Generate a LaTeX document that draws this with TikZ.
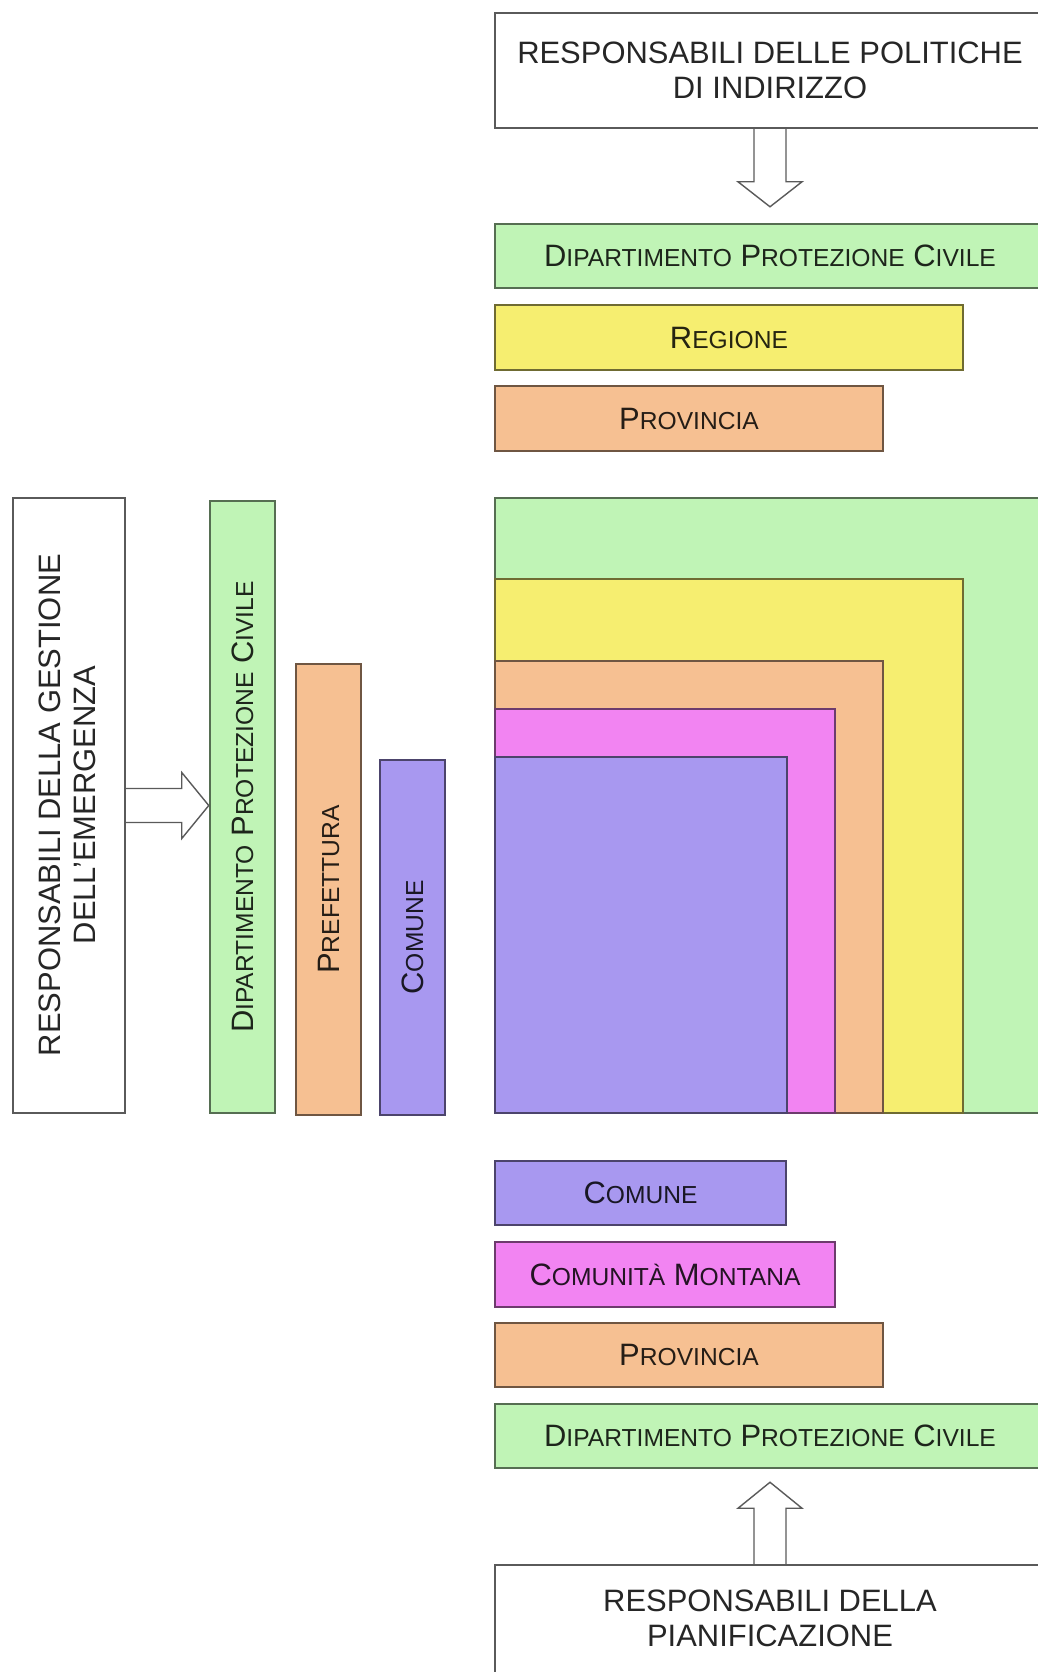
\documentclass[tikz,border=0pt]{standalone}
\usepackage{fontspec}
\setmainfont{Liberation Sans}
\usetikzlibrary{fit,calc}
\definecolor{cGreen}{RGB}{192,244,182}
\definecolor{cYellow}{RGB}{246,238,112}
\definecolor{cOrange}{RGB}{246,192,146}
\definecolor{cPink}{RGB}{242,132,242}
\definecolor{cBlue}{RGB}{168,152,240}
\definecolor{lineC}{RGB}{90,90,90}
\newcommand\fakesc[2]{{\fontsize{22}{25}\selectfont #1}{\fontsize{17.5}{25}\selectfont #2}}
\newcommand\bsp{{\fontsize{22}{25}\selectfont\ }}
\begin{document}
\begin{tikzpicture}[x=0.025cm,y=-0.025cm,
  box/.style={draw=lineC, line width=1.1pt, inner sep=0pt, fill=white},
  cbox/.style={draw=#1!45!black, line width=1.1pt, inner sep=0pt, fill=#1},
  bigtxt/.style={font=\fontsize{22}{25}\selectfont, align=center, text=black!85, inner sep=0pt},
  sctxt/.style={text=#1!15!black, inner sep=0pt},
  hollow/.style={draw=lineC, line width=1pt, line join=miter}]
\useasboundingbox (0,0) rectangle (1038,1672);
\clip (0,0) rectangle (1038,1672);

% top part
\node[box, fit={(495,13)(1045,128)}] (topbox) {};
\node[bigtxt] (toptxt) at (topbox.center) {RESPONSABILI DELLE POLITICHE\\DI INDIRIZZO};
\node[cbox=cGreen, fit={(495,224)(1045,288)}] (dpcT) {};
\node[sctxt=cGreen] (dpcTt) at (dpcT.center) {\fakesc{D}{IPARTIMENTO}\bsp\fakesc{P}{ROTEZIONE}\bsp\fakesc{C}{IVILE}};
\node[cbox=cYellow, fit={(495,305)(963,370)}] (regT) {};
\node[sctxt=cYellow] (regTt) at (regT.center) {\fakesc{R}{EGIONE}};
\node[cbox=cOrange, fit={(495,386)(883,451)}] (provT) {};
\node[sctxt=cOrange] (provTt) at (provT.center) {\fakesc{P}{ROVINCIA}};

% nested squares
\node[cbox=cGreen, fit={(495,498)(1045,1113)}] (sqG) {};
\node[cbox=cYellow, fit={(495,579)(963,1113)}] (sqY) {};
\node[cbox=cOrange, fit={(495,661)(883,1113)}] (sqO) {};
\node[cbox=cPink, fit={(495,709)(835,1113)}] (sqP) {};
\node[cbox=cBlue, fit={(495,757)(787,1113)}] (sqB) {};

% bottom part
\node[cbox=cBlue, fit={(495,1161)(786,1225)}] (comB) {};
\node[sctxt=cBlue] (comBt) at (comB.center) {\fakesc{C}{OMUNE}};
\node[cbox=cPink, fit={(495,1242)(835,1307)}] (cmB) {};
\node[sctxt=cPink] (cmBt) at (cmB.center) {\fakesc{C}{OMUNITÀ}\bsp\fakesc{M}{ONTANA}};
\node[cbox=cOrange, fit={(495,1323)(883,1387)}] (provB) {};
\node[sctxt=cOrange] (provBt) at (provB.center) {\fakesc{P}{ROVINCIA}};
\node[cbox=cGreen, fit={(495,1404)(1045,1468)}] (dpcB) {};
\node[sctxt=cGreen] (dpcBt) at (dpcB.center) {\fakesc{D}{IPARTIMENTO}\bsp\fakesc{P}{ROTEZIONE}\bsp\fakesc{C}{IVILE}};
\node[box, fit={(495,1565)(1045,1720)}] (botbox) {};
\node[bigtxt] (bottxt) at (770,1618) {RESPONSABILI DELLA\\PIANIFICAZIONE};

% left part
\node[box, fit={(13,498)(125,1113)}] (lbox) {};
\node[bigtxt, rotate=90] (lboxt) at (67,805) {RESPONSABILI DELLA GESTIONE\\DELL'EMERGENZA};
\node[cbox=cGreen, fit={(210,501)(275,1113)}] (dpcL) {};
\node[sctxt=cGreen, rotate=90] (dpcLt) at (dpcL.center) {\fakesc{D}{IPARTIMENTO}\bsp\fakesc{P}{ROTEZIONE}\bsp\fakesc{C}{IVILE}};
\node[cbox=cOrange, fit={(296,664)(361,1115)}] (prefL) {};
\node[sctxt=cOrange, rotate=90] (prefLt) at (prefL.center) {\fakesc{P}{REFETTURA}};
\node[cbox=cBlue, fit={(380,760)(445,1115)}] (comL) {};
\node[sctxt=cBlue, rotate=90] (comLt) at (comL.center) {\fakesc{C}{OMUNE}};

% block arrows
\draw[hollow] ($(topbox.south)+(-16,0)$) -- ++(0,53) -- ++(-16,0) -- ($(topbox.south)+(0,78)$)
  -- ($(topbox.south)+(32,53)$) -- ++(-16,0) -- ($(topbox.south)+(16,0)$);
\draw[hollow] ($(lbox.east)+(0,-17)$) -- ++(56,0) -- ++(0,-16) -- ($(lbox.east)+(83,0)$)
  -- ($(lbox.east)+(56,33)$) -- ++(0,-16) -- ($(lbox.east)+(0,17)$);
\draw[hollow] ($(botbox.north)+(-16,0)$) -- ++(0,-56) -- ++(-16,0) -- ($(botbox.north)+(0,-82)$)
  -- ($(botbox.north)+(32,-56)$) -- ++(-16,0) -- ($(botbox.north)+(16,0)$);
\end{tikzpicture}
\end{document}
